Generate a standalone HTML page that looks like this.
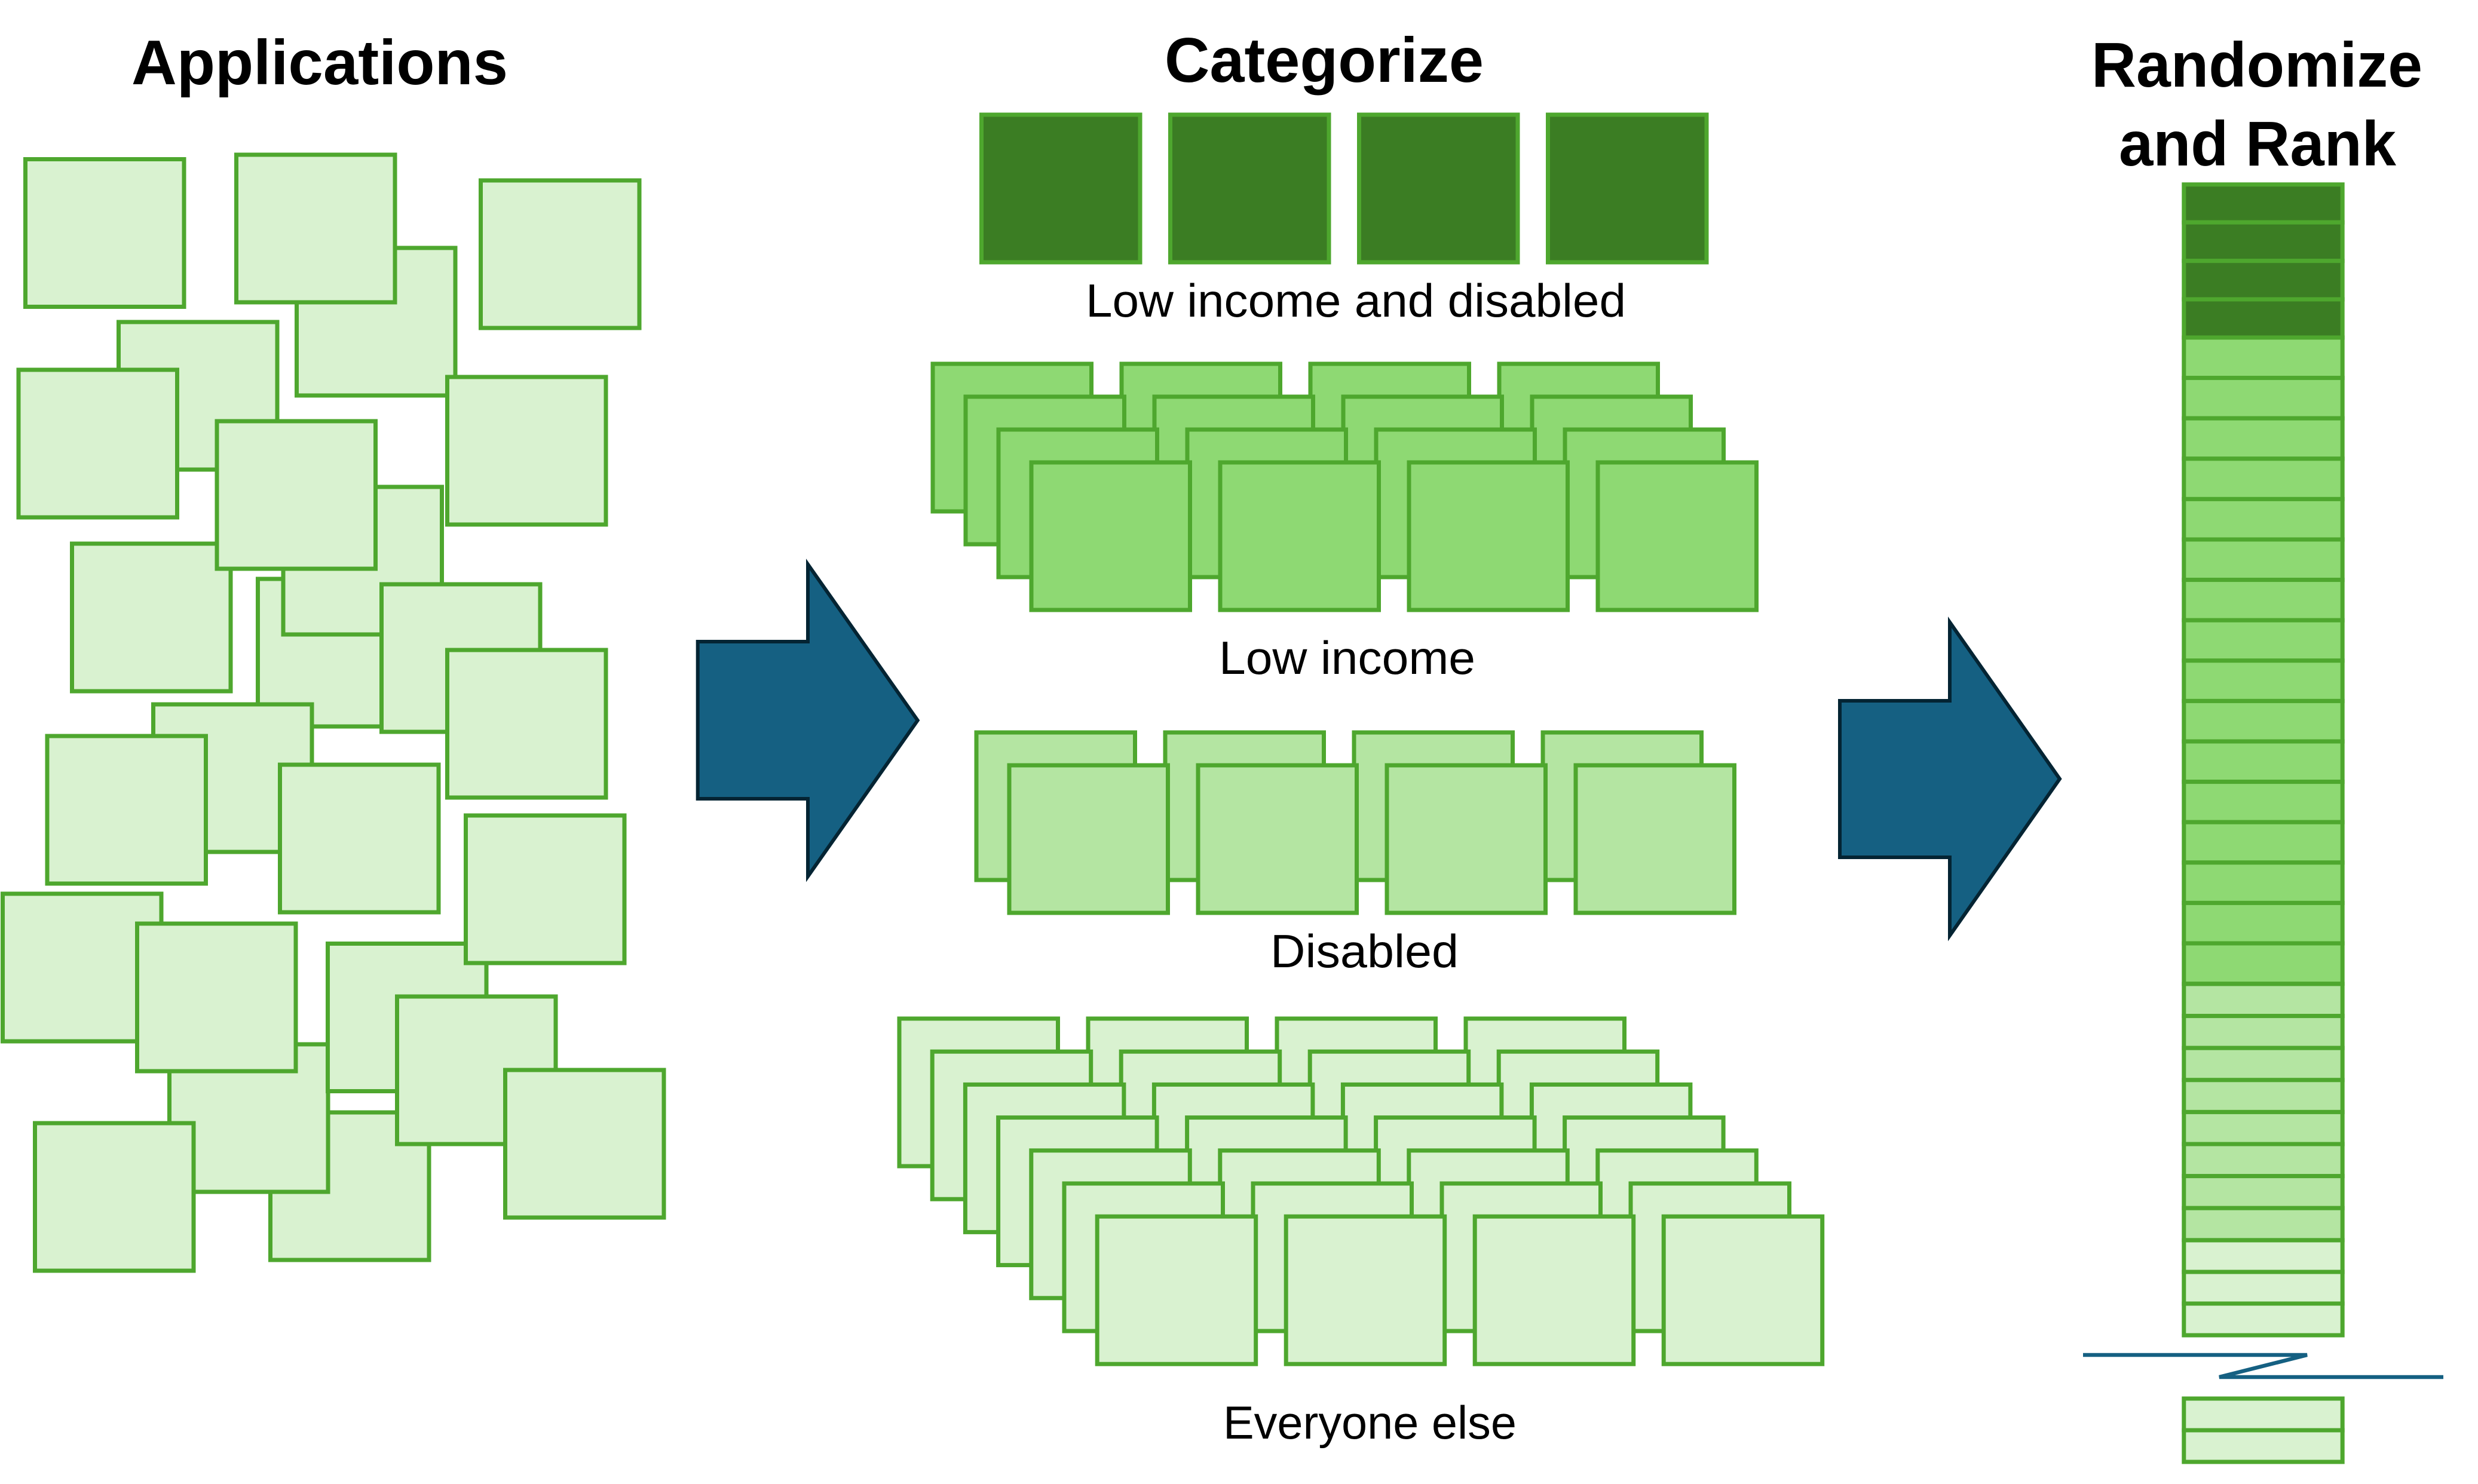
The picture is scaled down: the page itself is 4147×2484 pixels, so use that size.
<!DOCTYPE html>
<html lang="en">
<head>
<meta charset="utf-8">
<title>Applications, Categorize, Randomize and Rank</title>
<style>
html,body{margin:0;padding:0;background:#fff;width:4147px;height:2484px;overflow:hidden}
svg{display:block}
text{font-family:"Liberation Sans",sans-serif;fill:#000}
.h{font-weight:700;font-size:106px}
.l{font-size:78px}
</style>
</head>
<body>
<svg xmlns="http://www.w3.org/2000/svg" width="4147" height="2484" viewBox="0 0 4147 2484">
<defs>
<rect id="t" width="265.5" height="247"/>
<g id="row">
<use href="#t" x="0"/><use href="#t" x="316"/><use href="#t" x="632"/><use href="#t" x="948"/>
</g>
</defs>
<rect width="4147" height="2484" fill="#fff"/>

<text class="h" x="220" y="141" textLength="630" lengthAdjust="spacingAndGlyphs">Applications</text>
<text class="h" x="1949" y="137" textLength="534" lengthAdjust="spacingAndGlyphs">Categorize</text>
<text class="h" x="3500" y="145" textLength="554" lengthAdjust="spacingAndGlyphs">Randomize</text>
<text class="h" x="3546" y="277" textLength="464" lengthAdjust="spacingAndGlyphs">and Rank</text>

<!-- scattered applications -->
<g fill="#D9F2D0" stroke="#4EA72E" stroke-width="7" transform="translate(-0.5,0)">
<use href="#t" x="497" y="415"/>
<use href="#t" x="396" y="259"/>
<use href="#t" x="43" y="266.5"/>
<use href="#t" x="805" y="302"/>
<use href="#t" x="749" y="631"/>
<use href="#t" x="199" y="539"/>
<use href="#t" x="31.5" y="619"/>
<use href="#t" x="432" y="969"/>
<use href="#t" x="474.5" y="815"/>
<use href="#t" x="121" y="910"/>
<use href="#t" x="363.5" y="705"/>
<use href="#t" x="639" y="978"/>
<use href="#t" x="749" y="1088"/>
<use href="#t" x="257" y="1179"/>
<use href="#t" x="79.5" y="1232"/>
<use href="#t" x="469" y="1280"/>
<use href="#t" x="453" y="1862"/>
<use href="#t" x="284" y="1748"/>
<use href="#t" x="549" y="1579.5"/>
<use href="#t" x="780" y="1365"/>
<use href="#t" x="5" y="1496"/>
<use href="#t" x="230" y="1546"/>
<use href="#t" x="665" y="1668"/>
<use href="#t" x="846" y="1791"/>
<use href="#t" x="59" y="1880"/>
</g>

<!-- arrows -->
<g fill="#156082" stroke="#042433" stroke-width="6" stroke-miterlimit="10">
<polygon points="1167.7,1074 1352,1074 1352,944.6 1535.7,1205.8 1352,1467 1352,1337 1167.7,1337"/>
<polygon points="3079,1173 3263,1173 3263,1041.5 3447,1303.75 3263,1566 3263,1435 3079,1435"/>
</g>

<!-- categories -->
<g stroke="#4EA72E" stroke-width="7">
<use href="#row" x="1642.5" y="192" fill="#3B7D23"/>
<g fill="#8ED973">
<use href="#row" x="1561" y="609"/>
<use href="#row" x="1616" y="664"/>
<use href="#row" x="1671" y="719"/>
<use href="#row" x="1726" y="774"/>
</g>
<g fill="#B4E5A2">
<use href="#row" x="1634" y="1226"/>
<use href="#row" x="1689" y="1281"/>
</g>
<g fill="#D9F2D0">
<use href="#row" x="1505" y="1705"/>
<use href="#row" x="1560.2" y="1760.2"/>
<use href="#row" x="1615.4" y="1815.4"/>
<use href="#row" x="1670.6" y="1870.6"/>
<use href="#row" x="1725.8" y="1925.8"/>
<use href="#row" x="1781" y="1981"/>
<use href="#row" x="1836.2" y="2036.2"/>
</g>
</g>

<text class="l" x="1817" y="530" textLength="904" lengthAdjust="spacingAndGlyphs">Low income and disabled</text>
<text class="l" x="2040" y="1128" textLength="429" lengthAdjust="spacingAndGlyphs">Low income</text>
<text class="l" x="2126" y="1619" textLength="315" lengthAdjust="spacingAndGlyphs">Disabled</text>
<text class="l" x="2047" y="2408" textLength="491" lengthAdjust="spacingAndGlyphs">Everyone else</text>

<!-- ranked column -->
<g stroke="#4EA72E" stroke-width="7">
<g fill="#3B7D23">
<rect x="3654.8" y="308.8" width="265.4" height="63.4"/>
<rect x="3654.8" y="372.2" width="265.4" height="64.5"/>
<rect x="3654.8" y="436.7" width="265.4" height="64.3"/>
<rect x="3654.8" y="501" width="265.4" height="64"/>
</g>
<g fill="#8ED973">
<rect x="3654.8" y="565" width="265.4" height="67.6"/>
<rect x="3654.8" y="632.6" width="265.4" height="67.6"/>
<rect x="3654.8" y="700.2" width="265.4" height="67.6"/>
<rect x="3654.8" y="767.8" width="265.4" height="67.6"/>
<rect x="3654.8" y="835.4" width="265.4" height="67.6"/>
<rect x="3654.8" y="903" width="265.4" height="67.6"/>
<rect x="3654.8" y="970.6" width="265.4" height="67.6"/>
<rect x="3654.8" y="1038.2" width="265.4" height="67.6"/>
<rect x="3654.8" y="1105.8" width="265.4" height="67.6"/>
<rect x="3654.8" y="1173.4" width="265.4" height="67.6"/>
<rect x="3654.8" y="1241" width="265.4" height="67.6"/>
<rect x="3654.8" y="1308.6" width="265.4" height="67.6"/>
<rect x="3654.8" y="1376.2" width="265.4" height="67.6"/>
<rect x="3654.8" y="1443.8" width="265.4" height="67.6"/>
<rect x="3654.8" y="1511.4" width="265.4" height="67.6"/>
<rect x="3654.8" y="1579" width="265.4" height="67.6"/>
</g>
<g fill="#B4E5A2">
<rect x="3654.8" y="1647" width="265.4" height="53.6"/>
<rect x="3654.8" y="1700.6" width="265.4" height="53.6"/>
<rect x="3654.8" y="1754.2" width="265.4" height="53.6"/>
<rect x="3654.8" y="1807.8" width="265.4" height="53.6"/>
<rect x="3654.8" y="1861.4" width="265.4" height="53.6"/>
<rect x="3654.8" y="1915" width="265.4" height="53.6"/>
<rect x="3654.8" y="1968.6" width="265.4" height="53.6"/>
<rect x="3654.8" y="2022.2" width="265.4" height="53.6"/>
</g>
<g fill="#D9F2D0">
<rect x="3654.8" y="2076" width="265.4" height="53"/>
<rect x="3654.8" y="2129" width="265.4" height="53"/>
<rect x="3654.8" y="2182" width="265.4" height="53"/>
<rect x="3654.8" y="2341" width="265.4" height="53"/>
<rect x="3654.8" y="2394" width="265.4" height="53"/>
</g>
</g>

<!-- break line -->
<polyline points="3486,2268 3861,2268 3714,2305 4089,2305" fill="none" stroke="#156082" stroke-width="6.5" stroke-linejoin="miter" stroke-miterlimit="4"/>
</svg>
</body>
</html>
